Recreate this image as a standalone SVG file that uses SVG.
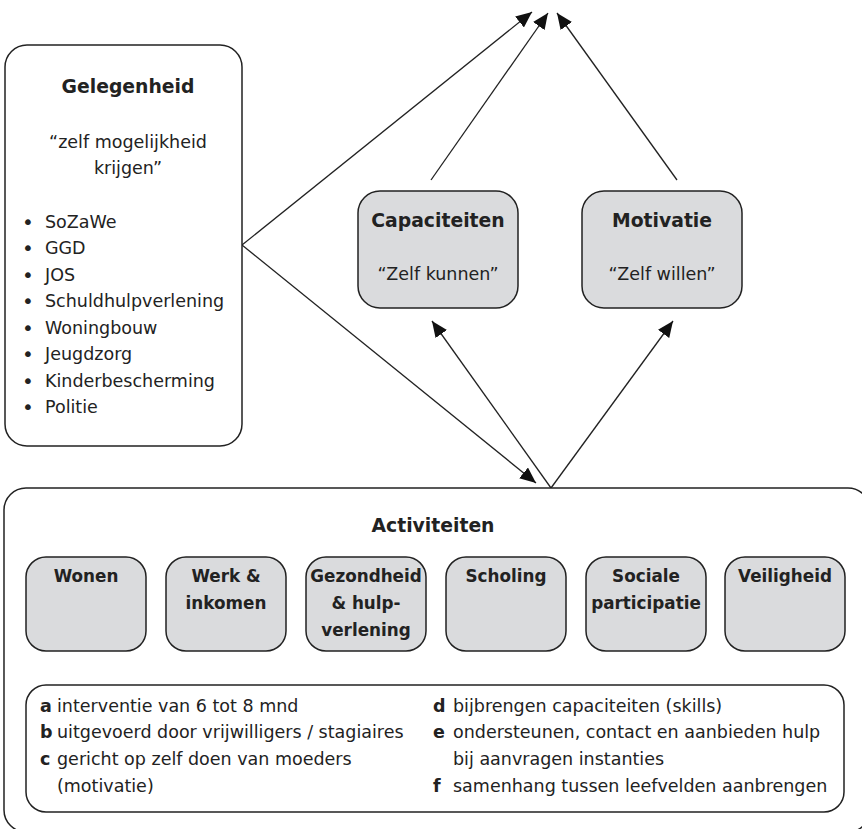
<svg xmlns="http://www.w3.org/2000/svg" width="862" height="829" viewBox="0 0 862 829">
<defs>
<style>
text{font-family:"DejaVu Sans","Liberation Sans",sans-serif;fill:#222;}
.t{font-size:17.5px;}
.bl{font-size:20px;}
.b{font-weight:bold;}
.lb{font-size:16.8px;font-weight:bold;}
.h{font-size:18.8px;font-weight:bold;}
.m{text-anchor:middle;}
.box{fill:#fff;stroke:#222;stroke-width:1.5;}
.gbox{fill:#dadbdd;stroke:#222;stroke-width:1.5;}
.c{stroke:#222;stroke-width:1.3;fill:none;}
</style>
<marker id="ah" markerUnits="userSpaceOnUse" markerWidth="16" markerHeight="14" viewBox="0 0 16 14" refX="16" refY="7" orient="auto">
<path d="M0,0 L16,7 L0,14 Z" fill="#111"/>
</marker>
<marker id="as" markerUnits="userSpaceOnUse" markerWidth="11" markerHeight="18" viewBox="0 0 11 18" refX="11" refY="9" orient="auto">
<path d="M0,0 L11,9 L0,18 Z" fill="#111"/>
</marker>
</defs>

<g id="connectors">
<line class="c" x1="242" y1="245" x2="532" y2="12" marker-end="url(#ah)"/>
<line class="c" x1="431" y1="180" x2="548" y2="13" marker-end="url(#ah)"/>
<line class="c" x1="677" y1="180" x2="557" y2="13" marker-end="url(#ah)"/>
<line class="c" x1="242" y1="245" x2="536" y2="483" marker-end="url(#ah)"/>
<line class="c" x1="551" y1="488" x2="432" y2="321" marker-end="url(#ah)"/>
<line class="c" x1="551" y1="488" x2="673" y2="321" marker-end="url(#ah)"/>
<line class="c" x1="86" y1="685" x2="86" y2="658" marker-end="url(#as)"/>
<line class="c" x1="226" y1="685" x2="226" y2="658" marker-end="url(#as)"/>
<line class="c" x1="366" y1="685" x2="366" y2="658" marker-end="url(#as)"/>
<line class="c" x1="506" y1="685" x2="506" y2="658" marker-end="url(#as)"/>
<line class="c" x1="646" y1="685" x2="646" y2="658" marker-end="url(#as)"/>
<line class="c" x1="785" y1="685" x2="785" y2="658" marker-end="url(#as)"/>
</g>

<g id="gelegenheid">
<rect class="box" x="5" y="45" width="237" height="401" rx="22"/>
<text class="h m" x="128" y="93">Gelegenheid</text>
<text class="t m" x="128" y="148">“zelf mogelijkheid</text>
<text class="t m" x="128" y="174">krijgen”</text>
<g class="t">
<text class="bl" x="22" y="229">•</text><text x="45" y="228">SoZaWe</text>
<text class="bl" x="22" y="255">•</text><text x="45" y="254">GGD</text>
<text class="bl" x="22" y="282">•</text><text x="45" y="281">JOS</text>
<text class="bl" x="22" y="308">•</text><text x="45" y="307">Schuldhulpverlening</text>
<text class="bl" x="22" y="335">•</text><text x="45" y="334">Woningbouw</text>
<text class="bl" x="22" y="361">•</text><text x="45" y="360">Jeugdzorg</text>
<text class="bl" x="22" y="388">•</text><text x="45" y="387">Kinderbescherming</text>
<text class="bl" x="22" y="414">•</text><text x="45" y="413">Politie</text>
</g>
</g>

<g id="capaciteiten">
<rect class="gbox" x="358" y="191" width="160" height="117" rx="22"/>
<text class="h m" x="438" y="227">Capaciteiten</text>
<text class="t m" x="438" y="280">“Zelf kunnen”</text>
</g>

<g id="motivatie">
<rect class="gbox" x="582" y="191" width="160" height="117" rx="22"/>
<text class="h m" x="662" y="227">Motivatie</text>
<text class="t m" x="662" y="280">“Zelf willen”</text>
</g>

<g id="activiteiten">
<rect class="box" x="4" y="488" width="866" height="344" rx="22"/>
<text class="h m" x="433" y="532">Activiteiten</text>
</g>

<g id="wonen">
<rect class="gbox" x="26" y="557" width="120" height="94" rx="20"/>
<text class="lb m" x="86" y="582">Wonen</text>
</g>
<g id="werk">
<rect class="gbox" x="166" y="557" width="120" height="94" rx="20"/>
<text class="lb m" x="226" y="582">Werk &amp;</text>
<text class="lb m" x="226" y="609">inkomen</text>
</g>
<g id="gezondheid">
<rect class="gbox" x="306" y="557" width="120" height="94" rx="20"/>
<text class="lb m" x="366" y="582">Gezondheid</text>
<text class="lb m" x="366" y="609">&amp; hulp-</text>
<text class="lb m" x="366" y="636">verlening</text>
</g>
<g id="scholing">
<rect class="gbox" x="446" y="557" width="120" height="94" rx="20"/>
<text class="lb m" x="506" y="582">Scholing</text>
</g>
<g id="sociale">
<rect class="gbox" x="586" y="557" width="120" height="94" rx="20"/>
<text class="lb m" x="646" y="582">Sociale</text>
<text class="lb m" x="646" y="609">participatie</text>
</g>
<g id="veiligheid">
<rect class="gbox" x="725" y="557" width="120" height="94" rx="20"/>
<text class="lb m" x="785" y="582">Veiligheid</text>
</g>

<g id="legend">
<rect class="box" x="26" y="685" width="818" height="127" rx="20"/>
<g class="t">
<text class="b" x="40" y="712">a</text><text x="57" y="712">interventie van 6 tot 8 mnd</text>
<text class="b" x="40" y="738">b</text><text x="57" y="738">uitgevoerd door vrijwilligers / stagiaires</text>
<text class="b" x="40" y="765">c</text><text x="57" y="765">gericht op zelf doen van moeders</text>
<text x="57" y="792">(motivatie)</text>
<text class="b" x="433" y="712">d</text><text x="453" y="712">bijbrengen capaciteiten (skills)</text>
<text class="b" x="433" y="738">e</text><text x="453" y="738">ondersteunen, contact en aanbieden hulp</text>
<text x="453" y="765">bij aanvragen instanties</text>
<text class="b" x="433" y="792">f</text><text x="453" y="792">samenhang tussen leefvelden aanbrengen</text>
</g>
</g>
</svg>
